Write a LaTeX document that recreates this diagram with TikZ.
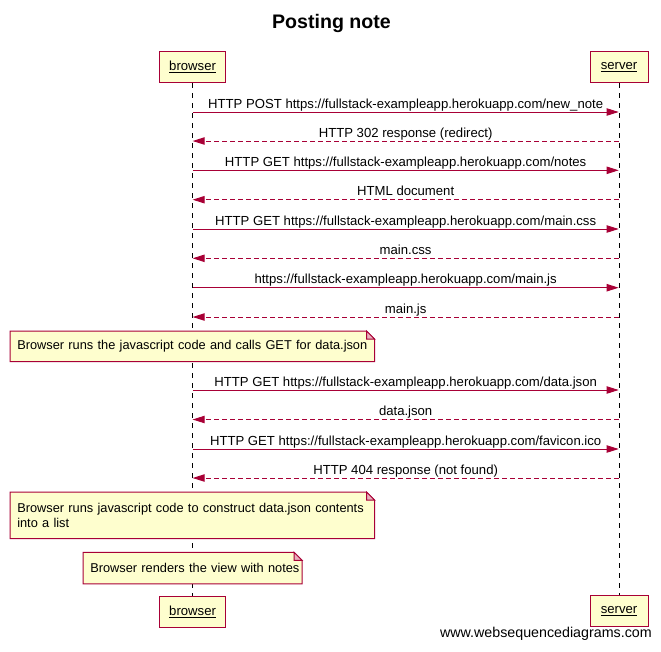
\documentclass[tikz,border=0pt]{standalone}
\usepackage{fontspec}
\setmainfont{Liberation Sans}
\usetikzlibrary{arrows.meta,calc,backgrounds}
\definecolor{wsdred}{HTML}{A80036}
\definecolor{wsdfill}{HTML}{FEFECE}
\definecolor{foldfill}{HTML}{E8B0BC}
\begin{document}
\begin{tikzpicture}[x=0.75pt,y=-0.75pt,
  txt/.style={font=\fontsize{9.85pt}{11.5pt}\selectfont},
  actor/.style={draw=wsdred,fill=wsdfill,line width=0.75pt,inner sep=0pt,txt,minimum height=23.4pt},
  lifeline/.style={draw=black,line width=0.75pt,dash pattern=on 3.75pt off 3.75pt},
  msg/.style={draw=wsdred,line width=0.75pt,-{Triangle[length=9pt,width=5.5pt]}},
  ret/.style={msg,dash pattern=on 3.75pt off 2.25pt},
  lbl/.style={txt,anchor=base,inner sep=0pt,text=black},
  notebox/.style={font=\fontsize{9.6pt}{11.4pt}\selectfont,anchor=north west,align=left,inner xsep=5.25pt,inner ysep=0pt}
]
\useasboundingbox (0,0) rectangle (661,651);
% title
\node[font=\bfseries\fontsize{14.7pt}{17pt}\selectfont,anchor=base,inner sep=0pt] (title) at (331.5,28.3) {Posting note};
% participants
\node[actor,minimum width=49.1pt] (bt) at (192.6,67) {\underline{browser}};
\node[actor,minimum width=43.5pt] (st) at (619,67) {\underline{server}};
\node[actor,minimum width=49.1pt] (bb) at (192.6,611.8) {\underline{browser}};
\node[actor,minimum width=43.5pt] (sb) at (619,611.3) {\underline{server}};
% lifeline coordinates for messages
\foreach \i/\yy in {1/112,2/141,3/170.3,4/199.7,5/229,6/258.3,7/287.7,8/317,9/390,10/419.5,11/449,12/478}{
  \coordinate (b\i) at (192.6,\yy);
  \coordinate (s\i) at (618.7,\yy);
}
% messages
\draw[msg] (b1) -- node[midway,lbl,yshift=3pt] {HTTP POST https://fullstack-exampleapp.herokuapp.com/new\_note} (s1);
\draw[ret] (s2) -- node[midway,lbl,yshift=3pt] {HTTP 302 response (redirect)} (b2);
\draw[msg] (b3) -- node[midway,lbl,yshift=3pt] {HTTP GET https://fullstack-exampleapp.herokuapp.com/notes} (s3);
\draw[ret] (s4) -- node[midway,lbl,yshift=3pt] {HTML document} (b4);
\draw[msg] (b5) -- node[midway,lbl,yshift=3pt] {HTTP GET https://fullstack-exampleapp.herokuapp.com/main.css} (s5);
\draw[ret] (s6) -- node[midway,lbl,yshift=3pt] {main.css} (b6);
\draw[msg] (b7) -- node[midway,lbl,yshift=3pt] {https://fullstack-exampleapp.herokuapp.com/main.js} (s7);
\draw[ret] (s8) -- node[midway,lbl,yshift=3pt] {main.js} (b8);
\draw[msg] (b9) -- node[midway,lbl,yshift=3pt] {HTTP GET https://fullstack-exampleapp.herokuapp.com/data.json} (s9);
\draw[ret] (s10) -- node[midway,lbl,yshift=3pt] {data.json} (b10);
\draw[msg] (b11) -- node[midway,lbl,yshift=3pt] {HTTP GET https://fullstack-exampleapp.herokuapp.com/favicon.ico} (s11);
\draw[ret] (s12) -- node[midway,lbl,yshift=3pt] {HTTP 404 response (not found)} (b12);
% notes
\node[notebox,text width=262.5pt,minimum height=22.5pt] (note1) at (10,331) {\mbox{Browser runs the javascript code and calls GET for data.json}};
\node[notebox,text width=262.5pt,minimum height=34.5pt] (note2) at (10,492) {\mbox{Browser runs javascript code to construct data.json contents}\\\mbox{into a list}};
\node[notebox,text width=153.4pt,minimum height=23.25pt] (note3) at (83,552.3) {\mbox{Browser renders the view with notes}};
% watermark
\node[font=\fontsize{10.7pt}{12pt}\selectfont,anchor=base east,inner sep=0pt] (wm) at (652,637) {www.websequencediagrams.com};
\begin{scope}[on background layer]
  \draw[lifeline] (bt.south) -- (bb.north);
  \draw[lifeline] (st.south) -- (sb.north);
  \foreach \n in {note1,note2,note3}{
    \draw[wsdred,fill=wsdfill,line width=0.75pt] (\n.north west) -- ($(\n.north east)+(-8,0)$) -- ($(\n.north east)+(0,8)$) -- (\n.south east) -- (\n.south west) -- cycle;
    \draw[wsdred,fill=foldfill,line width=0.75pt] ($(\n.north east)+(-8,0)$) -- ($(\n.north east)+(-8,8)$) -- ($(\n.north east)+(0,8)$) -- cycle;
  }
\end{scope}
\end{tikzpicture}
\end{document}
